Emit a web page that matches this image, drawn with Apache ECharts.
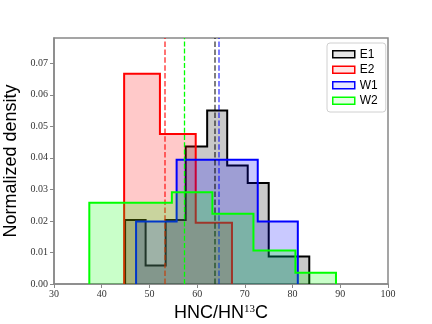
<!DOCTYPE html>
<html>
<head>
<meta charset="utf-8">
<script src="https://cdn.jsdelivr.net/npm/echarts@6/dist/echarts.min.js"></script>
<style>
  html, body { margin: 0; padding: 0; background: #fff; }
  #chart { width: 432px; height: 324px; }
</style>
</head>
<body>
<div id="chart"></div>
<script>
// histogram bin edges and normalized densities
var seriesNames = ['E1', 'E2', 'W1', 'W2']
var e1Edges = [44.9, 49.2, 53.4, 57.6, 62.1, 66.3, 70.6, 75.0, 79.3, 83.5]
var e1Density = [0.0203, 0.0059, 0.0203, 0.0436, 0.055, 0.0376, 0.032, 0.0087, 0.0087]
var e2Edges = [44.7, 52.2, 59.7, 67.3]
var e2Density = [0.0667, 0.0476, 0.0194]
var w1Edges = [47.2, 55.7, 64.2, 72.7, 81.1]
var w1Density = [0.0198, 0.0394, 0.0394, 0.0198]
var w2Edges = [37.4, 46.0, 54.7, 63.2, 71.8, 80.6, 89.1]
var w2Density = [0.0258, 0.0258, 0.0291, 0.0223, 0.0106, 0.0036]
// dashed vertical lines (means)
var means = [63.6, 53.2, 64.5, 57.3]
var yTicks = [0, 0.01, 0.02, 0.03, 0.04, 0.05, 0.06, 0.07]

var colors = ['#000000', '#ff0000', '#0000ff', '#00ff00']
var fills = ['rgba(0,0,0,0.3)', 'rgba(255,0,0,0.3)', 'rgba(0,0,255,0.3)', 'rgba(0,255,0,0.3)']
var meanColors = ['rgba(0,0,0,0.5)', 'rgba(255,0,0,0.55)', 'rgba(0,0,255,0.5)', '#00ff00']

// outline of a step histogram: up at first edge, across each bin, down at the last edge
function stepPoints(edges, dens) {
  var pts = [[edges[0], 0]]
  for (var i = 0; i < dens.length; i++) {
    pts.push([edges[i], dens[i]])
    pts.push([edges[i + 1], dens[i]])
  }
  pts.push([edges[edges.length - 1], 0])
  return pts
}

var hists = [
  stepPoints(e1Edges, e1Density),
  stepPoints(e2Edges, e2Density),
  stepPoints(w1Edges, w1Density),
  stepPoints(w2Edges, w2Density)
]

// each histogram gets its own z so the later fills cover earlier outlines
var series = hists.map(function(pts, i) {
  return {
    name: seriesNames[i],
    type: 'line',
    data: pts,
    showSymbol: false,
    symbol: 'none',
    lineStyle: { color: colors[i], width: 2, join: 'miter' },
    itemStyle: { color: colors[i] },
    areaStyle: { color: fills[i], origin: 'start' },
    z: 2 + i
  }
})

series.push({
  name: 'means',
  type: 'line',
  data: [],
  z: 10,
  markLine: {
    silent: true,
    symbol: 'none',
    label: { show: false },
    animation: false,
    data: means.map(function(m, i) {
      return {
        xAxis: m,
        lineStyle: {
          color: meanColors[i],
          width: i === 3 ? 1.3 : 2,
          type: i === 3 ? [5, 2.2] : [5.5, 2.4]
        }
      }
    })
  }
})

var chart = echarts.init(document.getElementById('chart'), null, { renderer: 'canvas' })
chart.setOption({
  animation: false,
  backgroundColor: '#fff',
  grid: {
    left: 54,
    right: 44,
    top: 38,
    bottom: 40,
    containLabel: false,
    outerBoundsMode: 'none',
    show: true,
    borderColor: '#888',
    borderWidth: 1.5
  },
  legend: {
    orient: 'vertical',
    left: 327,
    top: 43,
    padding: [5, 8, 5, 5],
    itemWidth: 22,
    itemHeight: 7,
    itemGap: 3,
    borderColor: '#d0d0d0',
    borderWidth: 1,
    borderRadius: 3,
    backgroundColor: '#fff',
    textStyle: { fontFamily: 'Liberation Sans', fontSize: 12, color: '#000', lineHeight: 12.5 },
    data: seriesNames.map(function(n, i) {
      return {
        name: n,
        icon: 'rect',
        itemStyle: { color: fills[i].replace('0.3', '0.1'), borderColor: colors[i], borderWidth: 1.5 }
      }
    })
  },
  xAxis: {
    type: 'value',
    min: 30,
    max: 100,
    interval: 10,
    name: '{t|HNC/HN}{s|13}{t|C}',
    nameLocation: 'middle',
    nameGap: 13,
    nameTextStyle: {
      rich: {
        t: { fontFamily: 'Liberation Sans', fontSize: 18, color: '#000' },
        s: { fontFamily: 'Liberation Serif', fontSize: 11, color: '#000', verticalAlign: 'top' }
      }
    },
    splitLine: { show: false },
    axisLine: { lineStyle: { color: '#888', width: 1.5 } },
    axisTick: { length: 4, lineStyle: { color: '#888' } },
    axisLabel: { fontFamily: 'Liberation Serif', fontSize: 10, color: '#333', margin: 5 }
  },
  yAxis: {
    type: 'value',
    min: 0,
    max: 0.078,
    name: 'Normalized density',
    nameLocation: 'middle',
    nameGap: 29,
    nameTextStyle: { fontFamily: 'Liberation Sans', fontSize: 18, color: '#000' },
    splitLine: { show: false },
    axisLine: { show: true, lineStyle: { color: '#888', width: 1.5 } },
    axisTick: { show: true, length: 4, customValues: yTicks, lineStyle: { color: '#888' } },
    axisLabel: {
      fontFamily: 'Liberation Serif',
      fontSize: 10,
      color: '#333',
      margin: 6,
      customValues: yTicks,
      formatter: function(v) { return v.toFixed(2) }
    }
  },
  series: series
})
</script>
</body>
</html>
